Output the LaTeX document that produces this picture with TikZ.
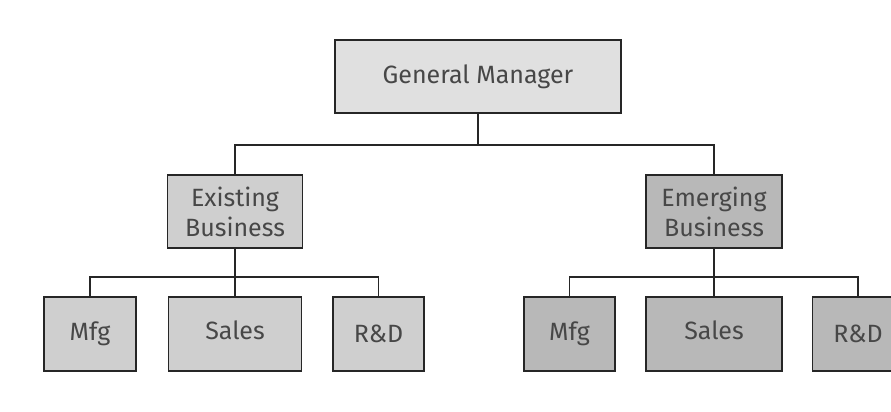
\documentclass[tikz,border=0pt]{standalone}
\usepackage{fontspec}
\setmainfont{Fira Sans}
\begin{document}
\begin{tikzpicture}[x=1pt,y=-1pt,
  box/.style={draw=black!85, line width=1.7pt, minimum height=73pt, inner sep=0pt,
    text=black!72, align=center, font=\fontsize{25}{30}\selectfont},
  topbox/.style={box, fill=black!12},
  oldbox/.style={box, fill=black!19},
  newbox/.style={box, fill=black!28},
  link/.style={draw=black!85, line width=1.7pt}]
\useasboundingbox (0,0) rectangle (891,412);
\fill[white] (0,0) rectangle (891,412);

% top level
\node[topbox, minimum width=286pt] (gm) at (478,76.5) {General Manager};

% divisions
\node[oldbox, minimum width=135pt] (exist) at (235,211.5) {Existing\\Business};
\node[newbox, minimum width=136pt] (emerg) at (714,211.5) {Emerging\\Business};

% functions of the existing business
\node[oldbox, minimum width=92pt, minimum height=74pt] (mfgA) at (90,334) {Mfg};
\node[oldbox, minimum width=133pt, minimum height=74pt] (salesA) at (235,334) {\raisebox{7pt}{Sales}};
\node[oldbox, minimum width=91pt, minimum height=74pt] (rdA) at (378.5,334) {R\&D};

% functions of the emerging business
\node[newbox, minimum width=91pt, minimum height=74pt] (mfgB) at (569.5,334) {Mfg};
\node[newbox, minimum width=136pt, minimum height=74pt] (salesB) at (714,334) {\raisebox{7pt}{Sales}};
\node[newbox, minimum width=91pt, minimum height=74pt] (rdB) at (858,334) {R\&D};

% junction points
\coordinate (j0) at (478,145);
\coordinate (j1) at (235,277);
\coordinate (j2) at (714,277);

\draw[link] (gm.south) -- (j0);
\draw[link] (exist.north) -- (exist.north |- j0) -- (emerg.north |- j0) -- (emerg.north);

\draw[link] (exist.south) -- (j1);
\draw[link] (mfgA.north) -- (mfgA.north |- j1) -- (rdA.north |- j1) -- (rdA.north);
\draw[link] (j1) -- (salesA.north);

\draw[link] (emerg.south) -- (j2);
\draw[link] (mfgB.north) -- (mfgB.north |- j2) -- (rdB.north |- j2) -- (rdB.north);
\draw[link] (j2) -- (salesB.north);
\end{tikzpicture}
\end{document}
